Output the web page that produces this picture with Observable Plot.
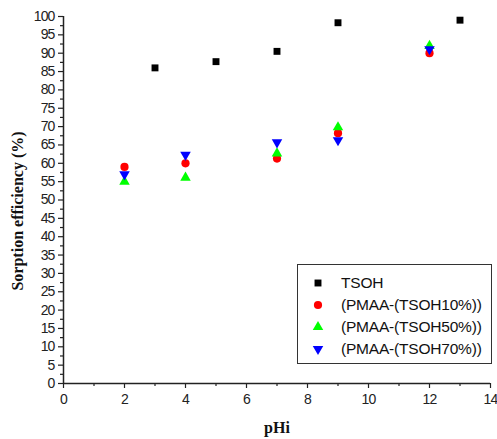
<!DOCTYPE html>
<html>
<head>
<meta charset="utf-8">
<script src="https://cdn.jsdelivr.net/npm/d3@7"></script>
<script src="https://cdn.jsdelivr.net/npm/@observablehq/plot@0.6"></script>
<style>
  html, body { margin: 0; padding: 0; background: #fff; }
  #wrap { position: relative; width: 497px; height: 439px; }
  #legend { position: absolute; left: 297px; top: 264px; width: 195px; height: 100px;
    border: 1px solid #333; background: #fff; box-sizing: border-box;
    font-family: "Liberation Sans", Arial, sans-serif; font-size: 15.5px; color: #111; }
  .row { position: absolute; left: 0; height: 22px; }
  .row svg { position: absolute; left: 12px; top: 3px; }
  .row span { position: absolute; left: 43px; white-space: nowrap; line-height: 22px; top: 0; letter-spacing: -0.2px; }
</style>
</head>
<body>
<div id="wrap"></div>
<script>
// Data
const seriesNames = ["TSOH", "(PMAA-(TSOH10%))", "(PMAA-(TSOH50%))", "(PMAA-(TSOH70%))"];
const seriesColors = ["#000000", "#ff0000", "#00ff00", "#0000ff"];
const seriesSymbols = ["square", "circle", "triangle", "triangle"];
const seriesRotate = [0, 0, 0, 180];
const seriesR = [3.9, 4.1, 3.9, 3.9];

const phTSOH = [3, 5, 7, 9, 13];
const valTSOH = [86, 87.7, 90.5, 98.3, 99];
const phPMAA = [2, 4, 7, 9, 12];
const valP10 = [59, 60, 61.3, 68.2, 90];
const valP50 = [55, 56.1, 62.7, 69.8, 92];
const valP70 = [57, 62.3, 65.7, 66.3, 91.1];

const xTicks = [0, 2, 4, 6, 8, 10, 12, 14];
const xMinor = [1, 3, 5, 7, 9, 11, 13];
const yTicks = d3.range(0, 101, 5);
const yMinor = d3.range(2.5, 100, 5);

const xsList = [phTSOH, phPMAA, phPMAA, phPMAA];
const ysList = [valTSOH, valP10, valP50, valP70];

const tickFont = "'Liberation Sans', Arial, sans-serif";
const titleFont = "'Liberation Serif', 'Times New Roman', serif";

const dotMarks = ysList.map((ys, i) =>
  Plot.dot(ys.map((v, j) => ({x: xsList[i][j], y: v})), {
    x: "x", y: "y", symbol: () => seriesSymbols[i], r: seriesR[i],
    fill: seriesColors[i], stroke: "none", rotate: seriesRotate[i]
  })
);

const chart = Plot.plot({
  width: 497, height: 439,
  marginLeft: 63, marginRight: 7, marginTop: 16, marginBottom: 56,
  x: {domain: [0, 14]},
  y: {domain: [0, 100]},
  symbol: {type: "identity"},
  style: {background: "#fff", color: "#222"},
  marks: [
    Plot.axisY(yTicks, {tickSize: 5, tickPadding: 4, fontSize: 14, fontFamily: tickFont, stroke: "#222", strokeWidth: 1.2, label: null}),
    Plot.axisY(yMinor, {tickSize: 3, text: null, stroke: "#222", strokeWidth: 1.2, label: null}),
    Plot.axisX(xTicks, {tickSize: 5, tickPadding: 6, fontSize: 14, fontFamily: tickFont, stroke: "#222", strokeWidth: 1.2, label: null}),
    Plot.axisX(xMinor, {tickSize: 3, text: null, stroke: "#222", strokeWidth: 1.2, label: null}),
    Plot.ruleX([0], {stroke: "#222", strokeWidth: 1.5}),
    Plot.ruleY([0], {stroke: "#222", strokeWidth: 1.5}),
    Plot.text(["Sorption efficiency (%)"], {frameAnchor: "left", textAnchor: "middle", lineAnchor: "middle",
      rotate: -90, dx: -46, dy: 11,
      fontFamily: titleFont, fontWeight: "bold", fontSize: 16, fill: "#111"}),
    Plot.text(["pHi"], {frameAnchor: "bottom", textAnchor: "middle", lineAnchor: "middle", dx: 0, dy: 44,
      fontFamily: titleFont, fontWeight: "bold", fontSize: 16, fill: "#111"}),
    ...dotMarks
  ]
});

// condense tick labels like the reference's narrow font
d3.select(chart).selectAll("g[aria-label='y-axis tick label'] text, g[aria-label='x-axis tick label'] text")
  .style("letter-spacing", "-0.9px");

const wrap = document.getElementById("wrap");
wrap.appendChild(chart);

// Legend
const legend = document.createElement("div");
legend.id = "legend";
wrap.appendChild(legend);
const symbolTypes = {square: d3.symbolSquare, circle: d3.symbolCircle, triangle: d3.symbolTriangle};
seriesNames.forEach((name, i) => {
  const row = document.createElement("div");
  row.className = "row";
  row.style.top = (7 + i * 22) + "px";
  row.style.width = "190px";
  const r = seriesR[i];
  const path = d3.symbol(symbolTypes[seriesSymbols[i]], Math.PI * r * r)();
  row.innerHTML = `<svg width="16" height="16" viewBox="-8 -8 16 16"><path d="${path}" fill="${seriesColors[i]}" transform="rotate(${seriesRotate[i]})"/></svg><span>${name}</span>`;
  legend.appendChild(row);
});
</script>
</body>
</html>
